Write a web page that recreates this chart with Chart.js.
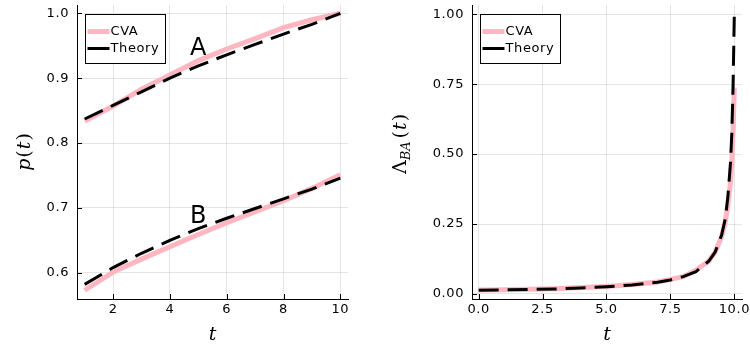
<!DOCTYPE html>
<html>
<head>
<meta charset="utf-8">
<script src="https://cdn.jsdelivr.net/npm/chart.js@4"></script>
<style>
  body { margin: 0; background: #fff; }
  .wrap { position: relative; width: 750px; height: 345px; }
  canvas { position: absolute; top: 0; }
</style>
</head>
<body>
<div class="wrap">
  <canvas id="left" width="375" height="345" style="left:0"></canvas>
  <canvas id="right" width="375" height="345" style="left:375px"></canvas>
</div>
<script>
// left panel: p(t) for A and B
const tP = [1, 2, 3, 4, 5, 6, 7, 8, 9, 10];
const cvaA = [0.834, 0.857, 0.883, 0.905, 0.927, 0.945, 0.961, 0.978, 0.990, 1.000];
const theoryA = [0.837, 0.858, 0.879, 0.900, 0.919, 0.936, 0.952, 0.968, 0.983, 1.000];
const cvaB = [0.573, 0.601, 0.621, 0.640, 0.659, 0.677, 0.694, 0.711, 0.730, 0.751];
const theoryB = [0.582, 0.608, 0.630, 0.650, 0.668, 0.684, 0.699, 0.714, 0.729, 0.746];
const noteText = ['A', 'B'];
const noteX = [5.0, 5.0];
const noteY = [0.946, 0.686];

// right panel: Lambda_BA(t)
const tL = [0, 1, 2, 3, 4, 5, 6, 7, 7.5, 8, 8.5, 9, 9.25, 9.5, 9.65, 9.75, 9.85, 9.9, 9.95, 10];
const cvaL = [0.014, 0.015, 0.017, 0.019, 0.023, 0.027, 0.034, 0.043, 0.052, 0.062, 0.085, 0.118, 0.150, 0.205, 0.260, 0.320, 0.400, 0.470, 0.580, 0.737];
const theoryL = [0.013, 0.015, 0.016, 0.018, 0.021, 0.026, 0.032, 0.042, 0.050, 0.062, 0.080, 0.117, 0.150, 0.210, 0.270, 0.350, 0.470, 0.570, 0.740, 1.000];

const leftXTicks = [2, 4, 6, 8, 10];
const leftYTicks = [0.6, 0.7, 0.8, 0.9, 1.0];
const rightXTicks = [0, 2.5, 5, 7.5, 10];
const rightYTicks = [0, 0.25, 0.5, 0.75, 1.0];

const PINK = '#ffb6c1';
const SANS = '"DejaVu Sans", sans-serif';
const SERIF = '"DejaVu Serif", serif';
Chart.defaults.font.family = SANS;
Chart.defaults.font.size = 13;
Chart.defaults.color = '#000';

const pts = (xs, ys) => xs.map((x, i) => ({ x: x, y: ys[i] }));

const cvaLine = (data, label) => ({
  label: label, data: data, borderColor: PINK, borderWidth: 5,
  pointRadius: 0, fill: false, tension: 0
});
const theoryLine = (data, label) => ({
  label: label, data: data, borderColor: '#000', borderWidth: 3,
  borderDash: [20, 9], pointRadius: 0, fill: false, tension: 0
});

const spacing = {
  id: 'spacing',
  beforeUpdate(c) { c.ctx.letterSpacing = '0.6px'; },
  beforeDraw(c) { c.ctx.letterSpacing = '0.6px'; }
};

// little tick marks pointing into the plot
const innerTicks = {
  id: 'innerTicks',
  afterDraw(c) {
    const ctx = c.ctx, a = c.chartArea;
    ctx.save();
    ctx.strokeStyle = '#000';
    ctx.lineWidth = 1;
    c.scales.x.ticks.forEach(t => {
      const px = Math.round(c.scales.x.getPixelForValue(t.value)) + 0.5;
      ctx.beginPath(); ctx.moveTo(px, a.bottom); ctx.lineTo(px, a.bottom - 5); ctx.stroke();
    });
    c.scales.y.ticks.forEach(t => {
      const py = Math.round(c.scales.y.getPixelForValue(t.value)) + 0.5;
      ctx.beginPath(); ctx.moveTo(a.left, py); ctx.lineTo(a.left + 5, py); ctx.stroke();
    });
    ctx.restore();
  }
};

const boxLegend = {
  id: 'boxLegend',
  afterDraw(c) {
    const ctx = c.ctx, a = c.chartArea;
    const x0 = a.left + 8.5, y0 = a.top + 9.5, w = 80, h = 49;
    ctx.save();
    ctx.fillStyle = '#fff';
    ctx.fillRect(x0, y0, w, h);
    ctx.strokeStyle = '#000';
    ctx.lineWidth = 1;
    ctx.strokeRect(x0, y0, w, h);
    const rows = [
      { label: 'CVA', color: PINK, lw: 5, y: y0 + 17 },
      { label: 'Theory', color: '#000', lw: 3, y: y0 + 34 }
    ];
    rows.forEach(r => {
      ctx.strokeStyle = r.color;
      ctx.lineWidth = r.lw;
      ctx.beginPath(); ctx.moveTo(x0 + 2, r.y); ctx.lineTo(x0 + 24, r.y); ctx.stroke();
      ctx.fillStyle = '#000';
      ctx.font = '13px ' + SANS;
      ctx.letterSpacing = '0.6px';
      ctx.textBaseline = 'middle';
      ctx.textAlign = 'left';
      ctx.fillText(r.label, x0 + 25, r.y);
    });
    ctx.restore();
  }
};

const titles = {
  id: 'titles',
  afterDraw(c) {
    const ctx = c.ctx, a = c.chartArea;
    const o = c.options.plugins.titles;
    ctx.save();
    ctx.fillStyle = '#000';
    ctx.letterSpacing = '0px';
    ctx.font = 'italic 19px ' + SERIF;
    ctx.textAlign = 'center';
    ctx.textBaseline = 'alphabetic';
    ctx.fillText('t', (a.left + a.right) / 2, 340);
    // rotated y title, drawn piece by piece
    const parts = o.y;
    let total = 0;
    parts.forEach(p => { ctx.font = p.font; p.w = ctx.measureText(p.text).width + (p.gap || 0); total += p.w; });
    ctx.translate(o.yx, o.yy);
    ctx.rotate(-Math.PI / 2);
    let cx = -total / 2;
    ctx.textAlign = 'left';
    parts.forEach(p => {
      ctx.font = p.font;
      ctx.fillText(p.text, cx, p.dy || 0);
      cx += p.w;
    });
    ctx.restore();
  }
};

const notes = {
  id: 'notes',
  afterDatasetsDraw(c) {
    if (!c.options.plugins.notes.show) return;
    const ctx = c.ctx;
    ctx.save();
    ctx.fillStyle = '#000';
    ctx.font = '24px ' + SANS;
    ctx.letterSpacing = '0px';
    ctx.textAlign = 'center';
    ctx.textBaseline = 'middle';
    noteText.forEach((s, i) => {
      ctx.fillText(s, c.scales.x.getPixelForValue(noteX[i]), c.scales.y.getPixelForValue(noteY[i]));
    });
    ctx.restore();
  }
};

function axes(xmin, xmax, xTicks, xDec, ymin, ymax, yTicks, yDec, yWidth) {
  const grid = { color: 'rgba(0,0,0,0.1)', lineWidth: 1, drawTicks: false };
  const border = { display: true, color: '#000', width: 1 };
  return {
    x: {
      type: 'linear', min: xmin, max: xmax, grid: grid, border: border,
      ticks: { padding: 3, maxRotation: 0, callback: v => v.toFixed(xDec) },
      afterBuildTicks: s => { s.ticks = xTicks.map(v => ({ value: v })); },
      afterFit: s => { s.height = 46; s.paddingLeft = 0; s.paddingRight = 0; }
    },
    y: {
      type: 'linear', min: ymin, max: ymax, grid: grid, border: border,
      ticks: { padding: 8, callback: v => v.toFixed(yDec) },
      afterBuildTicks: s => { s.ticks = yTicks.map(v => ({ value: v })); },
      afterFit: s => { s.width = yWidth; s.paddingTop = 0; s.paddingBottom = 0; }
    }
  };
}

const plugs = [spacing, innerTicks, notes, boxLegend, titles];

new Chart(document.getElementById('left'), {
  type: 'line',
  data: {
    datasets: [
      theoryLine(pts(tP, theoryA), 'Theory'),
      theoryLine(pts(tP, theoryB), 'Theory'),
      cvaLine(pts(tP, cvaA), 'CVA'),
      cvaLine(pts(tP, cvaB), 'CVA')
    ]
  },
  options: {
    responsive: false, animation: false,
    layout: { padding: { top: 5, right: 27, left: 0, bottom: 0 } },
    scales: axes(0.73, 10.27, leftXTicks, 0, 0.5595, 1.0128, leftYTicks, 1, 77),
    plugins: {
      legend: { display: false }, tooltip: { enabled: false },
      notes: { show: true },
      titles: {
        yx: 30, yy: 152,
        y: [
          { text: 'p', font: 'italic 19px ' + SERIF, gap: 1 },
          { text: '(', font: '19px ' + SERIF, gap: 1 },
          { text: 't', font: 'italic 19px ' + SERIF, gap: 1 },
          { text: ')', font: '19px ' + SERIF }
        ]
      }
    }
  },
  plugins: plugs
});

new Chart(document.getElementById('right'), {
  type: 'line',
  data: {
    datasets: [
      theoryLine(pts(tL, theoryL), 'Theory'),
      cvaLine(pts(tL, cvaL), 'CVA')
    ]
  },
  options: {
    responsive: false, animation: false,
    layout: { padding: { top: 5, right: 8, left: 0, bottom: 0 } },
    scales: axes(-0.26, 10.3, rightXTicks, 1, -0.018, 1.033, rightYTicks, 2, 97),
    plugins: {
      legend: { display: false }, tooltip: { enabled: false },
      notes: { show: false },
      titles: {
        yx: 31, yy: 144,
        y: [
          { text: 'Λ', font: '19px ' + SERIF },
          { text: 'BA', font: 'italic 13px ' + SERIF, dy: 4, gap: 3 },
          { text: '(', font: '19px ' + SERIF, gap: 1 },
          { text: 't', font: 'italic 19px ' + SERIF, gap: 1 },
          { text: ')', font: '19px ' + SERIF }
        ]
      }
    }
  },
  plugins: plugs
});
</script>
</body>
</html>
